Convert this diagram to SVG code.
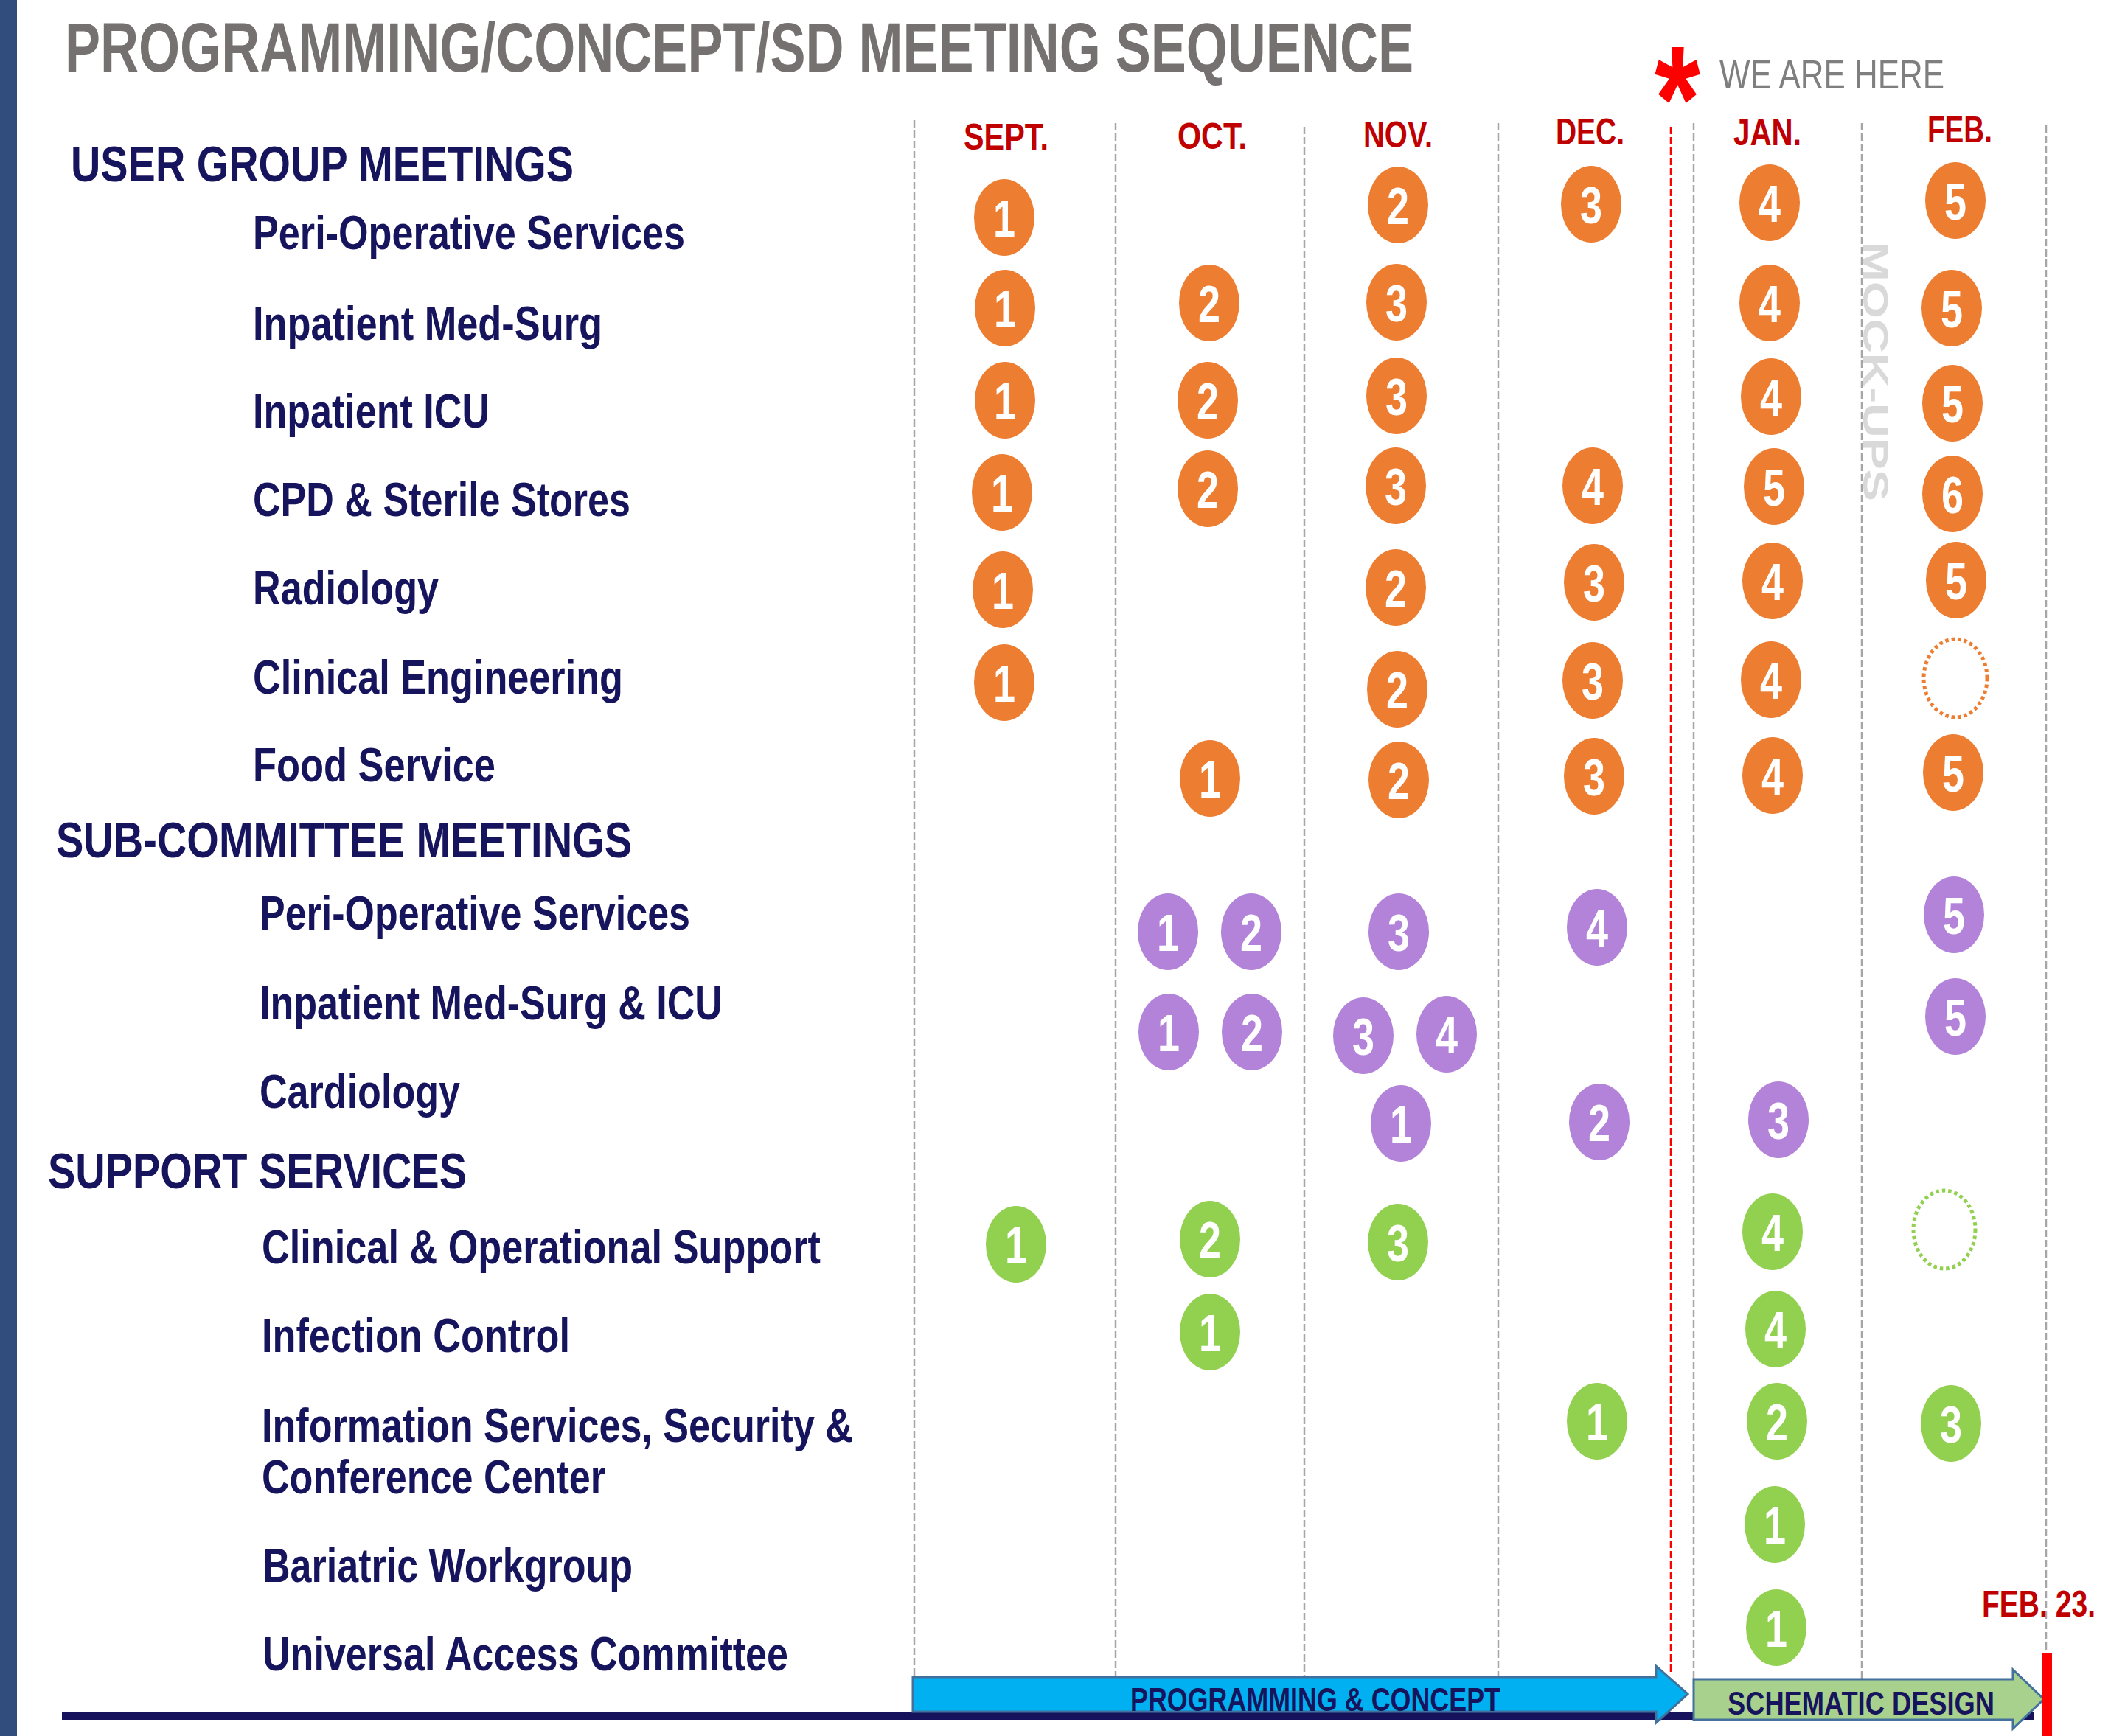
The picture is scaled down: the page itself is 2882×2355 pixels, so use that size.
<svg xmlns="http://www.w3.org/2000/svg" width="2882" height="2355" viewBox="0 0 2882 2355">
<style>
text{font-family:"Liberation Sans",Arial,sans-serif;font-weight:bold}
.title{font-size:94px;fill:#767171}
.here{font-size:56px;fill:#7F7F7F;font-weight:normal}
.mon{font-size:50px;fill:#C00000}
.hd{font-size:68px;fill:#17145E}
.it{font-size:65px;fill:#17145E}
.n{font-size:70px;fill:#FFFFFF;text-anchor:middle}
.o{fill:#ED7D31}
.p{fill:#B283D9}
.g{fill:#92D050}
.od{fill:none;stroke:#ED7D31;stroke-width:5;stroke-dasharray:4.5 4}
.gd{fill:none;stroke:#92D050;stroke-width:5;stroke-dasharray:4.5 4}
.grid{stroke:#A6A6A6;stroke-width:2.5;stroke-dasharray:10 4;fill:none}
.redgrid{stroke:#FF0000;stroke-width:2.5;stroke-dasharray:10 4;fill:none}
.phase{font-size:44px;fill:#17145E}
.mock{font-size:49px;fill:#D9D9D9}
</style>

<rect x="0" y="0" width="2882" height="2355" fill="#FFFFFF"/>
<rect x="0" y="0" width="23" height="2355" fill="#304D7E"/>

<g id="header">
<text class="title" x="88" y="97" textLength="1829" lengthAdjust="spacingAndGlyphs">PROGRAMMING/CONCEPT/SD MEETING SEQUENCE</text>
<text x="2244" y="205" font-size="205" fill="#FF0000" textLength="62" lengthAdjust="spacingAndGlyphs">*</text>
<text class="here" x="2332" y="120" textLength="305" lengthAdjust="spacingAndGlyphs">WE ARE HERE</text>
</g>

<g id="months">
<text class="mon" x="1307" y="203" textLength="115" lengthAdjust="spacingAndGlyphs">SEPT.</text>
<text class="mon" x="1597" y="202" textLength="94" lengthAdjust="spacingAndGlyphs">OCT.</text>
<text class="mon" x="1849" y="200" textLength="94" lengthAdjust="spacingAndGlyphs">NOV.</text>
<text class="mon" x="2110" y="196" textLength="93" lengthAdjust="spacingAndGlyphs">DEC.</text>
<text class="mon" x="2351" y="197" textLength="92" lengthAdjust="spacingAndGlyphs">JAN.</text>
<text class="mon" x="2614" y="193" textLength="88" lengthAdjust="spacingAndGlyphs">FEB.</text>
</g>

<g id="grid">
<line class="grid" x1="1240" y1="163" x2="1240" y2="2275"/>
<line class="grid" x1="1513" y1="167" x2="1513" y2="2275"/>
<line class="grid" x1="1769" y1="172" x2="1769" y2="2275"/>
<line class="grid" x1="2032" y1="167" x2="2032" y2="2275"/>
<line class="grid" x1="2297" y1="167" x2="2297" y2="2278"/>
<line class="grid" x1="2525" y1="167" x2="2525" y2="2278"/>
<line class="grid" x1="2775" y1="170" x2="2775" y2="2243"/>
<line class="redgrid" x1="2266" y1="172" x2="2266" y2="2272"/>
</g>

<text class="mock" transform="translate(2527,328) rotate(90)" x="0" y="0" textLength="352" lengthAdjust="spacingAndGlyphs">MOCK-UPS</text>

<g id="labels">
<text class="hd" x="96" y="246" textLength="682" lengthAdjust="spacingAndGlyphs">USER GROUP MEETINGS</text>
<text class="it" x="343" y="338" textLength="586" lengthAdjust="spacingAndGlyphs">Peri-Operative Services</text>
<text class="it" x="343" y="461" textLength="474" lengthAdjust="spacingAndGlyphs">Inpatient Med-Surg</text>
<text class="it" x="343" y="580" textLength="321" lengthAdjust="spacingAndGlyphs">Inpatient ICU</text>
<text class="it" x="343" y="700" textLength="512" lengthAdjust="spacingAndGlyphs">CPD &amp; Sterile Stores</text>
<text class="it" x="343" y="820" textLength="252" lengthAdjust="spacingAndGlyphs">Radiology</text>
<text class="it" x="343" y="941" textLength="502" lengthAdjust="spacingAndGlyphs">Clinical Engineering</text>
<text class="it" x="343" y="1060" textLength="329" lengthAdjust="spacingAndGlyphs">Food Service</text>
<text class="hd" x="76" y="1163" textLength="781" lengthAdjust="spacingAndGlyphs">SUB-COMMITTEE MEETINGS</text>
<text class="it" x="352" y="1261" textLength="584" lengthAdjust="spacingAndGlyphs">Peri-Operative Services</text>
<text class="it" x="352" y="1383" textLength="628" lengthAdjust="spacingAndGlyphs">Inpatient Med-Surg &amp; ICU</text>
<text class="it" x="352" y="1503" textLength="272" lengthAdjust="spacingAndGlyphs">Cardiology</text>
<text class="hd" x="65" y="1612" textLength="568" lengthAdjust="spacingAndGlyphs">SUPPORT SERVICES</text>
<text class="it" x="355" y="1714" textLength="758" lengthAdjust="spacingAndGlyphs">Clinical &amp; Operational Support</text>
<text class="it" x="355" y="1834" textLength="418" lengthAdjust="spacingAndGlyphs">Infection Control</text>
<text class="it" x="355" y="1956" textLength="802" lengthAdjust="spacingAndGlyphs">Information Services, Security &amp;</text>
<text class="it" x="355" y="2026" textLength="466" lengthAdjust="spacingAndGlyphs">Conference Center</text>
<text class="it" x="356" y="2146" textLength="502" lengthAdjust="spacingAndGlyphs">Bariatric Workgroup</text>
<text class="it" x="356" y="2266" textLength="713" lengthAdjust="spacingAndGlyphs">Universal Access Committee</text>
</g>

<g id="nodes">
<g id="ug1-1"><ellipse class="o" cx="1362" cy="295" rx="41" ry="52"/><text class="n" x="1362" y="321" textLength="30" lengthAdjust="spacingAndGlyphs">1</text></g>
<g id="ug1-2"><ellipse class="o" cx="1896" cy="278" rx="41" ry="52"/><text class="n" x="1896" y="304" textLength="30" lengthAdjust="spacingAndGlyphs">2</text></g>
<g id="ug1-3"><ellipse class="o" cx="2158" cy="277" rx="41" ry="52"/><text class="n" x="2158" y="303" textLength="30" lengthAdjust="spacingAndGlyphs">3</text></g>
<g id="ug1-4"><ellipse class="o" cx="2400" cy="275" rx="41" ry="52"/><text class="n" x="2400" y="301" textLength="30" lengthAdjust="spacingAndGlyphs">4</text></g>
<g id="ug1-5"><ellipse class="o" cx="2652" cy="272" rx="41" ry="52"/><text class="n" x="2652" y="298" textLength="30" lengthAdjust="spacingAndGlyphs">5</text></g>
<g id="ug2-1"><ellipse class="o" cx="1363" cy="418" rx="41" ry="52"/><text class="n" x="1363" y="444" textLength="30" lengthAdjust="spacingAndGlyphs">1</text></g>
<g id="ug2-2"><ellipse class="o" cx="1640" cy="411" rx="41" ry="52"/><text class="n" x="1640" y="437" textLength="30" lengthAdjust="spacingAndGlyphs">2</text></g>
<g id="ug2-3"><ellipse class="o" cx="1894" cy="410" rx="41" ry="52"/><text class="n" x="1894" y="436" textLength="30" lengthAdjust="spacingAndGlyphs">3</text></g>
<g id="ug2-4"><ellipse class="o" cx="2400" cy="411" rx="41" ry="52"/><text class="n" x="2400" y="437" textLength="30" lengthAdjust="spacingAndGlyphs">4</text></g>
<g id="ug2-5"><ellipse class="o" cx="2647" cy="418" rx="41" ry="52"/><text class="n" x="2647" y="444" textLength="30" lengthAdjust="spacingAndGlyphs">5</text></g>
<g id="ug3-1"><ellipse class="o" cx="1363" cy="543" rx="41" ry="52"/><text class="n" x="1363" y="569" textLength="30" lengthAdjust="spacingAndGlyphs">1</text></g>
<g id="ug3-2"><ellipse class="o" cx="1638" cy="543" rx="41" ry="52"/><text class="n" x="1638" y="569" textLength="30" lengthAdjust="spacingAndGlyphs">2</text></g>
<g id="ug3-3"><ellipse class="o" cx="1894" cy="537" rx="41" ry="52"/><text class="n" x="1894" y="563" textLength="30" lengthAdjust="spacingAndGlyphs">3</text></g>
<g id="ug3-4"><ellipse class="o" cx="2402" cy="538" rx="41" ry="52"/><text class="n" x="2402" y="564" textLength="30" lengthAdjust="spacingAndGlyphs">4</text></g>
<g id="ug3-5"><ellipse class="o" cx="2648" cy="547" rx="41" ry="52"/><text class="n" x="2648" y="573" textLength="30" lengthAdjust="spacingAndGlyphs">5</text></g>
<g id="ug4-1"><ellipse class="o" cx="1359" cy="668" rx="41" ry="52"/><text class="n" x="1359" y="694" textLength="30" lengthAdjust="spacingAndGlyphs">1</text></g>
<g id="ug4-2"><ellipse class="o" cx="1638" cy="663" rx="41" ry="52"/><text class="n" x="1638" y="689" textLength="30" lengthAdjust="spacingAndGlyphs">2</text></g>
<g id="ug4-3"><ellipse class="o" cx="1893" cy="659" rx="41" ry="52"/><text class="n" x="1893" y="685" textLength="30" lengthAdjust="spacingAndGlyphs">3</text></g>
<g id="ug4-4"><ellipse class="o" cx="2160" cy="659" rx="41" ry="52"/><text class="n" x="2160" y="685" textLength="30" lengthAdjust="spacingAndGlyphs">4</text></g>
<g id="ug4-5"><ellipse class="o" cx="2406" cy="660" rx="41" ry="52"/><text class="n" x="2406" y="686" textLength="30" lengthAdjust="spacingAndGlyphs">5</text></g>
<g id="ug4-6"><ellipse class="o" cx="2648" cy="670" rx="41" ry="52"/><text class="n" x="2648" y="696" textLength="30" lengthAdjust="spacingAndGlyphs">6</text></g>
<g id="ug5-1"><ellipse class="o" cx="1360" cy="800" rx="41" ry="52"/><text class="n" x="1360" y="826" textLength="30" lengthAdjust="spacingAndGlyphs">1</text></g>
<g id="ug5-2"><ellipse class="o" cx="1893" cy="797" rx="41" ry="52"/><text class="n" x="1893" y="823" textLength="30" lengthAdjust="spacingAndGlyphs">2</text></g>
<g id="ug5-3"><ellipse class="o" cx="2162" cy="790" rx="41" ry="52"/><text class="n" x="2162" y="816" textLength="30" lengthAdjust="spacingAndGlyphs">3</text></g>
<g id="ug5-4"><ellipse class="o" cx="2404" cy="788" rx="41" ry="52"/><text class="n" x="2404" y="814" textLength="30" lengthAdjust="spacingAndGlyphs">4</text></g>
<g id="ug5-5"><ellipse class="o" cx="2653" cy="787" rx="41" ry="52"/><text class="n" x="2653" y="813" textLength="30" lengthAdjust="spacingAndGlyphs">5</text></g>
<g id="ug6-1"><ellipse class="o" cx="1362" cy="926" rx="41" ry="52"/><text class="n" x="1362" y="952" textLength="30" lengthAdjust="spacingAndGlyphs">1</text></g>
<g id="ug6-2"><ellipse class="o" cx="1895" cy="935" rx="41" ry="52"/><text class="n" x="1895" y="961" textLength="30" lengthAdjust="spacingAndGlyphs">2</text></g>
<g id="ug6-3"><ellipse class="o" cx="2160" cy="923" rx="41" ry="52"/><text class="n" x="2160" y="949" textLength="30" lengthAdjust="spacingAndGlyphs">3</text></g>
<g id="ug6-4"><ellipse class="o" cx="2402" cy="922" rx="41" ry="52"/><text class="n" x="2402" y="948" textLength="30" lengthAdjust="spacingAndGlyphs">4</text></g>
<g id="ug6-tbd"><ellipse class="od" cx="2652" cy="920" rx="43" ry="53"/></g>
<g id="ug7-1"><ellipse class="o" cx="1641" cy="1056" rx="41" ry="52"/><text class="n" x="1641" y="1082" textLength="30" lengthAdjust="spacingAndGlyphs">1</text></g>
<g id="ug7-2"><ellipse class="o" cx="1897" cy="1058" rx="41" ry="52"/><text class="n" x="1897" y="1084" textLength="30" lengthAdjust="spacingAndGlyphs">2</text></g>
<g id="ug7-3"><ellipse class="o" cx="2162" cy="1053" rx="41" ry="52"/><text class="n" x="2162" y="1079" textLength="30" lengthAdjust="spacingAndGlyphs">3</text></g>
<g id="ug7-4"><ellipse class="o" cx="2404" cy="1052" rx="41" ry="52"/><text class="n" x="2404" y="1078" textLength="30" lengthAdjust="spacingAndGlyphs">4</text></g>
<g id="ug7-5"><ellipse class="o" cx="2649" cy="1048" rx="41" ry="52"/><text class="n" x="2649" y="1074" textLength="30" lengthAdjust="spacingAndGlyphs">5</text></g>

<g id="sc1-1"><ellipse class="p" cx="1584" cy="1264" rx="41" ry="52"/><text class="n" x="1584" y="1290" textLength="30" lengthAdjust="spacingAndGlyphs">1</text></g>
<g id="sc1-2"><ellipse class="p" cx="1697" cy="1264" rx="41" ry="52"/><text class="n" x="1697" y="1290" textLength="30" lengthAdjust="spacingAndGlyphs">2</text></g>
<g id="sc1-3"><ellipse class="p" cx="1897" cy="1264" rx="41" ry="52"/><text class="n" x="1897" y="1290" textLength="30" lengthAdjust="spacingAndGlyphs">3</text></g>
<g id="sc1-4"><ellipse class="p" cx="2166" cy="1258" rx="41" ry="52"/><text class="n" x="2166" y="1284" textLength="30" lengthAdjust="spacingAndGlyphs">4</text></g>
<g id="sc1-5"><ellipse class="p" cx="2650" cy="1241" rx="41" ry="52"/><text class="n" x="2650" y="1267" textLength="30" lengthAdjust="spacingAndGlyphs">5</text></g>
<g id="sc2-1"><ellipse class="p" cx="1585" cy="1400" rx="41" ry="52"/><text class="n" x="1585" y="1426" textLength="30" lengthAdjust="spacingAndGlyphs">1</text></g>
<g id="sc2-2"><ellipse class="p" cx="1698" cy="1400" rx="41" ry="52"/><text class="n" x="1698" y="1426" textLength="30" lengthAdjust="spacingAndGlyphs">2</text></g>
<g id="sc2-3"><ellipse class="p" cx="1849" cy="1405" rx="41" ry="52"/><text class="n" x="1849" y="1431" textLength="30" lengthAdjust="spacingAndGlyphs">3</text></g>
<g id="sc2-4"><ellipse class="p" cx="1962" cy="1403" rx="41" ry="52"/><text class="n" x="1962" y="1429" textLength="30" lengthAdjust="spacingAndGlyphs">4</text></g>
<g id="sc2-5"><ellipse class="p" cx="2652" cy="1379" rx="41" ry="52"/><text class="n" x="2652" y="1405" textLength="30" lengthAdjust="spacingAndGlyphs">5</text></g>
<g id="sc3-1"><ellipse class="p" cx="1900" cy="1524" rx="41" ry="52"/><text class="n" x="1900" y="1550" textLength="30" lengthAdjust="spacingAndGlyphs">1</text></g>
<g id="sc3-2"><ellipse class="p" cx="2169" cy="1522" rx="41" ry="52"/><text class="n" x="2169" y="1548" textLength="30" lengthAdjust="spacingAndGlyphs">2</text></g>
<g id="sc3-3"><ellipse class="p" cx="2412" cy="1519" rx="41" ry="52"/><text class="n" x="2412" y="1545" textLength="30" lengthAdjust="spacingAndGlyphs">3</text></g>

<g id="ss1-1"><ellipse class="g" cx="1378" cy="1688" rx="41" ry="52"/><text class="n" x="1378" y="1714" textLength="30" lengthAdjust="spacingAndGlyphs">1</text></g>
<g id="ss1-2"><ellipse class="g" cx="1641" cy="1681" rx="41" ry="52"/><text class="n" x="1641" y="1707" textLength="30" lengthAdjust="spacingAndGlyphs">2</text></g>
<g id="ss1-3"><ellipse class="g" cx="1896" cy="1685" rx="41" ry="52"/><text class="n" x="1896" y="1711" textLength="30" lengthAdjust="spacingAndGlyphs">3</text></g>
<g id="ss1-4"><ellipse class="g" cx="2404" cy="1671" rx="41" ry="52"/><text class="n" x="2404" y="1697" textLength="30" lengthAdjust="spacingAndGlyphs">4</text></g>
<g id="ss1-tbd"><ellipse class="gd" cx="2637" cy="1668" rx="42" ry="53"/></g>
<g id="ss2-1"><ellipse class="g" cx="1641" cy="1807" rx="41" ry="52"/><text class="n" x="1641" y="1833" textLength="30" lengthAdjust="spacingAndGlyphs">1</text></g>
<g id="ss2-4"><ellipse class="g" cx="2408" cy="1803" rx="41" ry="52"/><text class="n" x="2408" y="1829" textLength="30" lengthAdjust="spacingAndGlyphs">4</text></g>
<g id="ss3-1"><ellipse class="g" cx="2166" cy="1928" rx="41" ry="52"/><text class="n" x="2166" y="1954" textLength="30" lengthAdjust="spacingAndGlyphs">1</text></g>
<g id="ss3-2"><ellipse class="g" cx="2410" cy="1928" rx="41" ry="52"/><text class="n" x="2410" y="1954" textLength="30" lengthAdjust="spacingAndGlyphs">2</text></g>
<g id="ss3-3"><ellipse class="g" cx="2646" cy="1931" rx="41" ry="52"/><text class="n" x="2646" y="1957" textLength="30" lengthAdjust="spacingAndGlyphs">3</text></g>
<g id="ss4-1"><ellipse class="g" cx="2407" cy="2068" rx="41" ry="52"/><text class="n" x="2407" y="2094" textLength="30" lengthAdjust="spacingAndGlyphs">1</text></g>
<g id="ss5-1"><ellipse class="g" cx="2409" cy="2208" rx="41" ry="52"/><text class="n" x="2409" y="2234" textLength="30" lengthAdjust="spacingAndGlyphs">1</text></g>
</g>

<g id="connectors">
<rect x="84" y="2323" width="2674" height="10" fill="#16135C"/>
<g id="phase-programming">
<path d="M1238,2275 H2246 V2260 L2289,2298 L2246,2337 V2322 H1238 Z" fill="#00B0F0" stroke="#41719C" stroke-width="3" stroke-linejoin="miter"/>
<text class="phase" x="1533" y="2321" textLength="502" lengthAdjust="spacingAndGlyphs">PROGRAMMING &amp; CONCEPT</text>
</g>
<g id="phase-schematic">
<path d="M2297,2278 H2730 V2265 L2772,2305 L2730,2345 V2333 H2297 Z" fill="#A9D18E" stroke="#41719C" stroke-width="3" stroke-linejoin="miter"/>
<text class="phase" x="2343" y="2326" font-size="46" textLength="362" lengthAdjust="spacingAndGlyphs">SCHEMATIC DESIGN</text>
</g>
<rect x="2770" y="2243" width="13" height="112" fill="#FF0000"/>
<text class="mon" x="2688" y="2193" textLength="154" lengthAdjust="spacingAndGlyphs">FEB. 23.</text>
</g>
</svg>
